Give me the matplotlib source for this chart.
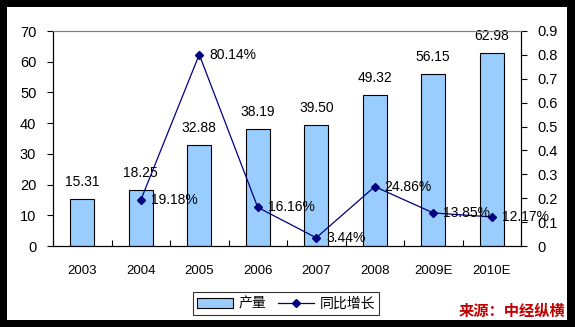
import matplotlib
matplotlib.use("Agg")
import matplotlib.pyplot as plt
from matplotlib.patches import Rectangle
from matplotlib.lines import Line2D

plt.rcParams['font.family'] = ['Liberation Sans', 'Noto Sans CJK SC', 'DejaVu Sans']

years = ["2003", "2004", "2005", "2006", "2007", "2008", "2009E", "2010E"]
output = [15.31, 18.25, 32.88, 38.19, 39.50, 49.32, 56.15, 62.98]
growth_years = ["2004", "2005", "2006", "2007", "2008", "2009E", "2010E"]
growth = [0.1918, 0.8014, 0.1616, 0.0344, 0.2486, 0.1385, 0.1217]
left_ticks = [0, 10, 20, 30, 40, 50, 60, 70]
right_ticks = [0, 0.1, 0.2, 0.3, 0.4, 0.5, 0.6, 0.7, 0.8, 0.9]

fig = plt.figure(figsize=(5.75, 3.27), dpi=100)
fig.patch.set_facecolor("black")
# white panel inside the black frame
fig.add_artist(Rectangle((7 / 575, 7 / 327), 560 / 575, 313 / 327,
                         transform=fig.transFigure, facecolor="white",
                         edgecolor="none", zorder=0))

ax = fig.add_axes([53 / 575, 1 - 246 / 327, 468 / 575, 215 / 327])
ax.set_facecolor("white")
x = list(range(len(years)))
ax.bar(x, output, width=0.41, color="#99CCFF", edgecolor="black", linewidth=0.8, zorder=2)
ax.set_xlim(-0.5, len(years) - 0.5)
ax.set_ylim(0, 70)
ax.set_yticks(left_ticks)
ax.set_yticklabels([str(v) for v in left_ticks], fontsize=10.5)
ax.set_xticks(x)
ax.set_xticklabels(years, fontsize=9.5)
ax.tick_params(axis="x", length=0, pad=14)
ax.set_xticks([i + 0.5 for i in range(-1, len(years))], minor=True)
ax.tick_params(axis="x", which="minor", direction="in", length=4, width=0.8)
ax.tick_params(axis="y", direction="out", length=4, width=0.8, pad=8)
for s in ["left", "bottom"]:
    ax.spines[s].set_color("black")
ax.spines["top"].set_color("#808080")
ax.spines["right"].set_color("black")

for xi, v in zip(x, output):
    ax.text(xi, v + 3.2, f"{v:.2f}", ha="center", va="bottom", fontsize=10, zorder=5)

ax2 = ax.twinx()
ax2.set_ylim(0, 0.9)
ax2.set_yticks(right_ticks)
ax2.set_yticklabels(["0"] + [f"{v:.1f}" for v in right_ticks[1:]], fontsize=10.5)
ax2.tick_params(axis="y", direction="out", length=4, width=0.8, pad=8)
ax2.spines["top"].set_color("#808080")
gx = [years.index(y) for y in growth_years]
ax2.plot(gx, growth, color="#000080", linewidth=0.9, marker="D", markersize=4.5,
         markerfacecolor="#000080", markeredgecolor="#000080", zorder=4)
for xi, g in zip(gx, growth):
    ax2.text(xi + 0.17, g, f"{g * 100:.2f}%", ha="left", va="center", fontsize=10, zorder=5)

handles = [Rectangle((0, 0), 1, 1, facecolor="#99CCFF", edgecolor="black", linewidth=0.8),
           Line2D([0], [0], color="#000080", linewidth=0.9, marker="D", markersize=4.5,
                  markerfacecolor="#000080")]
leg = fig.legend(handles, ["产量", "同比增长"], loc="center",
                 bbox_to_anchor=(286 / 575, 1 - 303.5 / 327), ncol=2, frameon=True,
                 fancybox=False, edgecolor="black", fontsize=10, handlelength=2.6,
                 handletextpad=0.4, columnspacing=0.8, borderpad=0.3)
leg.get_frame().set_linewidth(0.8)

fig.text(565 / 575, 1 - 311 / 327, "来源：中经纵横", ha="right", va="center",
         fontsize=11, fontweight="bold", color="#C00000",
         family=["Noto Sans CJK SC", "DejaVu Sans"])

fig.savefig("out.png", dpi=100, facecolor="black")
